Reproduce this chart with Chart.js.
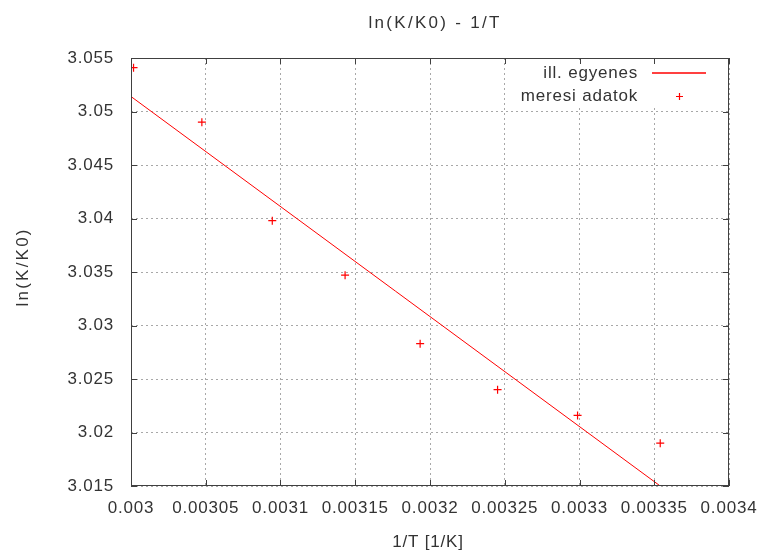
<!DOCTYPE html>
<html>
<head>
<meta charset="utf-8">
<script src="https://cdn.jsdelivr.net/npm/chart.js@4.4.1/dist/chart.umd.min.js"></script>
<style>
  html, body { margin: 0; padding: 0; background: #fff; }
  canvas { display: block; }
</style>
</head>
<body>
<canvas id="chart" width="761" height="553"></canvas>
<script>
// tick positions
const xTicks = [0.003, 0.00305, 0.0031, 0.00315, 0.0032, 0.00325, 0.0033, 0.00335, 0.0034];
const yTicks = [3.015, 3.02, 3.025, 3.03, 3.035, 3.04, 3.045, 3.05, 3.055];

// meresi adatok (1/T, ln(K/K0))
const invT = [0.0030017, 0.0030474, 0.0030945, 0.0031432, 0.0031934, 0.0032452, 0.0032987, 0.003354];
const lnK = [3.0541, 3.0490, 3.0398, 3.0347, 3.0283, 3.0240, 3.0216, 3.0190];

// ill. egyenes endpoints
const fitX = [0.003, 0.003354];
const fitY = [3.0514, 3.015];

const RED = '#ff0000';
const TEXT = '#333333';
const FONT = '"Liberation Sans", Arial, sans-serif';
const FONT_SIZE = 17;
const SPACING = '0.8px';

const fmt = v => String(Number(v.toFixed(6)));

// centred text stretched to the ink width seen in the reference
function wideText(ctx, text, x, y, width) {
  ctx.letterSpacing = '0px';
  const w = ctx.measureText(text).width;
  const s = (width - w) / (text.length - 1);
  ctx.letterSpacing = s + 'px';
  ctx.textAlign = 'left';
  ctx.fillText(text, x - width / 2, y);
  ctx.letterSpacing = '0px';
}

const frame = {
  id: 'gnuplotFrame',
  beforeDraw(chart) {
    chart.ctx.letterSpacing = SPACING;
  },
  beforeDatasetsDraw(chart) {
    const { ctx, chartArea: a } = chart;
    // legend background covers the grid
    ctx.save();
    ctx.fillStyle = '#fff';
    ctx.fillRect(505, 62, a.right - 505 - 2, 46);
    ctx.restore();
  },
  afterDatasetsDraw(chart) {
    const { ctx, chartArea: a, scales } = chart;
    ctx.save();
    ctx.strokeStyle = '#404040';
    ctx.lineWidth = 1;
    ctx.setLineDash([]);
    // inward tick marks on all sides
    ctx.beginPath();
    xTicks.forEach(t => {
      const x = Math.round(scales.x.getPixelForValue(t)) + 0.5;
      ctx.moveTo(x, a.bottom); ctx.lineTo(x, a.bottom - 6);
      ctx.moveTo(x, a.top); ctx.lineTo(x, a.top + 6);
    });
    yTicks.forEach(t => {
      const y = Math.round(scales.y.getPixelForValue(t)) + 0.5;
      ctx.moveTo(a.left, y); ctx.lineTo(a.left + 6, y);
      ctx.moveTo(a.right, y); ctx.lineTo(a.right - 6, y);
    });
    ctx.stroke();
    ctx.strokeRect(a.left + 0.5, a.top + 0.5, a.right - a.left - 1, a.bottom - a.top - 1);

    // legend
    ctx.font = `${FONT_SIZE}px ${FONT}`;
    ctx.fillStyle = TEXT;
    ctx.textBaseline = 'middle';
    ctx.letterSpacing = SPACING;
    ctx.textAlign = 'right';
    ctx.fillText('ill. egyenes', 638, 73);
    ctx.fillText('meresi adatok', 638, 96);
    ctx.letterSpacing = '0px';

    ctx.strokeStyle = RED;
    ctx.lineWidth = 1.4;
    ctx.beginPath();
    ctx.moveTo(652, 73); ctx.lineTo(706, 73);
    ctx.stroke();
    ctx.lineWidth = 1.2;
    ctx.beginPath();
    ctx.moveTo(676, 96.5); ctx.lineTo(683, 96.5);
    ctx.moveTo(679.5, 93); ctx.lineTo(679.5, 100);
    ctx.stroke();

    // titles
    ctx.fillStyle = TEXT;
    ctx.font = `${FONT_SIZE}px ${FONT}`;
    wideText(ctx, 'ln(K/K0) - 1/T', 434, 23, 131);
    ctx.letterSpacing = SPACING;
    ctx.textAlign = 'center';
    ctx.fillText('1/T [1/K]', 428, 542);
    ctx.translate(23, 268);
    ctx.rotate(-Math.PI / 2);
    wideText(ctx, 'ln(K/K0)', 0, 0, 77);
    ctx.restore();
  },
  afterDraw(chart) {
    chart.ctx.letterSpacing = '0px';
  }
};

new Chart(document.getElementById('chart'), {
  type: 'scatter',
  data: {
    datasets: [
      {
        label: 'ill. egyenes',
        data: fitX.map((x, i) => ({ x, y: fitY[i] })),
        showLine: true,
        borderColor: RED,
        borderWidth: 1,
        pointRadius: 0,
        fill: false
      },
      {
        label: 'meresi adatok',
        data: invT.map((x, i) => ({ x, y: lnK[i] })),
        showLine: false,
        pointStyle: 'cross',
        pointRadius: 4,
        borderWidth: 1.2,
        borderColor: RED,
        backgroundColor: RED
      }
    ]
  },
  options: {
    responsive: false,
    animation: false,
    layout: { padding: { left: 0, top: 58, right: 32, bottom: 0 } },
    plugins: {
      legend: { display: false },
      title: { display: false },
      tooltip: { enabled: false }
    },
    scales: {
      x: {
        type: 'linear',
        min: 0.003,
        max: 0.0034,
        afterBuildTicks: s => { s.ticks = xTicks.map(v => ({ value: v })); },
        afterFit: s => { s.height = 67; s.paddingLeft = 0; s.paddingRight = 0; },
        grid: { color: '#a8a8a8', drawTicks: false, lineWidth: 1 },
        border: { display: false, dash: [2, 3] },
        ticks: {
          color: TEXT,
          font: { family: FONT, size: FONT_SIZE },
          padding: 12,
          maxRotation: 0,
          autoSkip: false,
          callback: v => fmt(v)
        }
      },
      y: {
        type: 'linear',
        min: 3.015,
        max: 3.055,
        afterBuildTicks: s => { s.ticks = yTicks.map(v => ({ value: v })); },
        afterFit: s => { s.width = 131; s.paddingTop = 0; s.paddingBottom = 0; },
        grid: { color: '#a8a8a8', drawTicks: false, lineWidth: 1 },
        border: { display: false, dash: [2, 3] },
        ticks: {
          color: TEXT,
          font: { family: FONT, size: FONT_SIZE },
          padding: 17,
          autoSkip: false,
          callback: v => fmt(v)
        }
      }
    }
  },
  plugins: [frame]
});
</script>
</body>
</html>
